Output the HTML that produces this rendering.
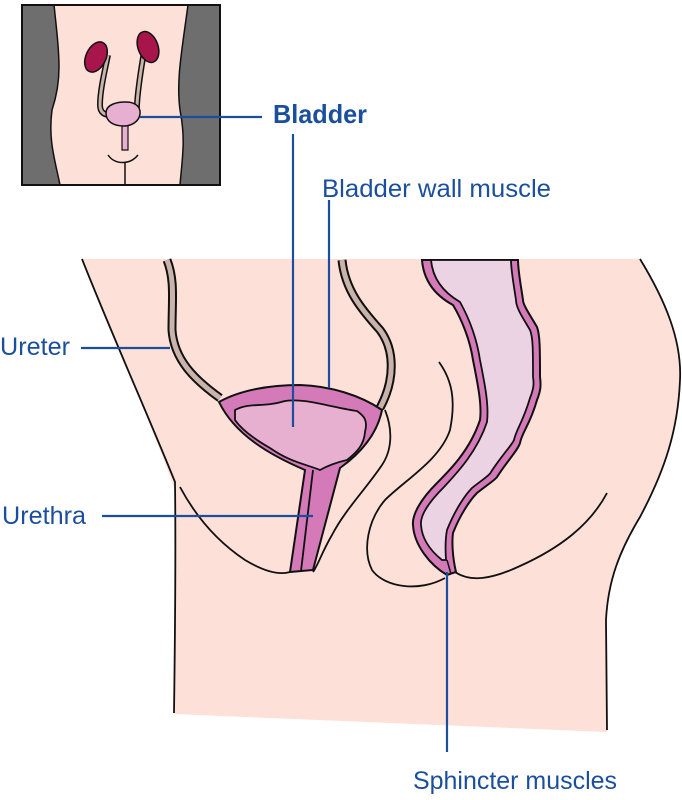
<!DOCTYPE html>
<html><head><meta charset="utf-8"><style>
html,body{margin:0;padding:0;background:#fff;}
svg{display:block;}
text{font-family:"Liberation Sans Narrow","Liberation Sans",sans-serif;fill:#1b4f9e;}
</style></head><body>
<svg width="682" height="800" viewBox="0 0 682 800" xmlns="http://www.w3.org/2000/svg">
<!-- inset -->
<rect x="22" y="5" width="198" height="180" fill="#fde0d8"/>
<path d="M22,5 L54,5 C60,60 62,80 52,110 C48,140 55,160 60,185 L22,185 Z" fill="#6e6e6e"/>
<path d="M220,5 L188,5 C182,50 176,80 180,110 C186,140 182,160 180,185 L220,185 Z" fill="#6e6e6e"/>
<path d="M54,5 C60,60 62,80 52,110 C48,140 55,160 60,185 M188,5 C182,50 176,80 180,110 C186,140 182,160 180,185" fill="none" stroke="#111" stroke-width="1.5"/>
<rect x="22" y="5" width="198" height="180" fill="none" stroke="#111" stroke-width="2"/>
<path d="M108,55 C105,70 100,90 100,105 C100,113 105,115 110,115 M145,45 C142,65 138,85 137,105 C137,112 133,115 128,115" fill="none" stroke="#111" stroke-width="6"/>
<path d="M108,55 C105,70 100,90 100,105 C100,113 105,115 110,115 M145,45 C142,65 138,85 137,105 C137,112 133,115 128,115" fill="none" stroke="#c9b3ab" stroke-width="3"/>
<ellipse cx="96" cy="57" rx="10" ry="16" transform="rotate(25 96 57)" fill="#a8154a" stroke="#111" stroke-width="1.5"/>
<ellipse cx="148" cy="47" rx="10" ry="16" transform="rotate(-20 148 47)" fill="#a8154a" stroke="#111" stroke-width="1.5"/>
<path d="M122,122 L122,150 L128,150 L128,122 Z" fill="#e8b0d0" stroke="#111" stroke-width="1.2"/>
<path d="M106,113 C106,104 118,102 125,102 C133,102 141,105 140,114 C139,122 131,126 124,126 C114,126 106,122 106,113 Z" fill="#e8b0d0" stroke="#111" stroke-width="1.5"/>
<path d="M108,155 C115,165 130,165 138,155 M125,162 L125,185" fill="none" stroke="#111" stroke-width="1.5"/>
<line x1="140" y1="117" x2="262" y2="117" stroke="#1b4f9e" stroke-width="2.2"/>

<!-- main body -->
<path d="M82,259 L640,259 C665,300 682,340 680,380 C678,430 665,470 640,517 C620,550 608,580 606,620 L607,732 L174,714 L174,713 C176,640 175,560 175,490 C150,420 110,330 82,259 Z" fill="#fde0d8"/>
<path d="M82,259 C110,330 150,420 175,482 C176,560 175,640 174,713" fill="none" stroke="#111" stroke-width="1.8"/>
<path d="M640,259 C665,300 682,340 680,380 C678,430 665,470 640,517 C620,550 608,580 606,620 L607,730" fill="none" stroke="#111" stroke-width="1.8"/>

<!-- ureters -->
<path d="M167,260 C175,280 172,300 172,330 C174,360 195,380 220,398" fill="none" stroke="#111" stroke-width="9"/>
<path d="M167,260 C175,280 172,300 172,330 C174,360 195,380 220,398" fill="none" stroke="#c9b3ab" stroke-width="5"/>
<path d="M342,260 C345,290 362,310 380,330 C395,350 395,380 380,408" fill="none" stroke="#111" stroke-width="9"/>
<path d="M342,260 C345,290 362,310 380,330 C395,350 395,380 380,408" fill="none" stroke="#c9b3ab" stroke-width="5"/>

<!-- other outlines -->
<path d="M180,487 C195,515 215,540 245,560 C265,572 280,575 290,572" fill="none" stroke="#111" stroke-width="1.8"/>
<path d="M385,410 C393,430 392,450 382,465 C365,490 345,510 332,535 C322,552 318,565 313,572" fill="none" stroke="#111" stroke-width="1.8"/>
<path d="M439,362 C452,380 456,400 450,430 C440,460 405,480 385,500 C368,520 362,550 372,570 C385,588 420,592 445,578" fill="none" stroke="#111" stroke-width="1.8"/>
<path d="M455,572 C470,582 490,580 520,566 C560,548 590,525 607,493" fill="none" stroke="#111" stroke-width="1.8"/>

<!-- bladder -->
<path d="M219,402 C240,390 270,385 300,385 C330,386 360,395 382,410 C378,430 365,450 340,468 L313,570 L290,572 L305,470 C270,455 235,435 219,402 Z" fill="#d47ab8" stroke="#111" stroke-width="2"/>
<line x1="313" y1="470" x2="301" y2="571" stroke="#111" stroke-width="1.8"/>
<path d="M235,410 C250,402 262,408 285,401 C305,398 325,406 357,411 C364,416 368,420 365,432 C364,445 357,452 347,460 C334,463 327,466 320,470 C305,464 290,462 270,448 C256,440 242,430 235,420 Z" fill="#e8b0d0" stroke="#111" stroke-width="1.8"/>

<!-- rectum -->
<path d="M422,260 C424,285 440,298 453,305 C462,320 470,340 473,360 C478,385 482,405 480,420 C470,450 450,470 437,483 C420,500 412,515 413,525 C414,545 430,565 447,575 L456,572 C452,555 452,540 453,533 C460,515 470,500 477,493 C487,485 495,480 497,477 C508,460 518,450 520,443 C522,432 530,425 537,400 C541,390 541,385 540,377 C540,350 540,335 537,327 C530,315 523,305 523,300 C520,280 518,270 518,260 Z" fill="#d47ab8" stroke="#111" stroke-width="2"/>
<path d="M431,260 C433,283 448,295 460,302 C470,320 477,340 480,360 C485,385 489,405 487,422 C477,452 457,473 444,487 C428,503 420,516 421,525 C422,540 432,552 442,560 L446,560 C445,545 446,535 447,530 C455,510 465,495 472,488 C482,480 490,475 491,472 C502,455 512,445 514,440 C516,430 523,422 530,398 C534,388 534,383 533,377 C533,350 533,337 530,330 C523,318 516,308 516,300 C513,280 511,270 511,260 Z" fill="#ecd3e3" stroke="#111" stroke-width="1.8"/>
<line x1="447" y1="560" x2="451" y2="574" stroke="#111" stroke-width="1.5"/>

<!-- leader lines -->
<g stroke="#1b4f9e" stroke-width="2.2">
<line x1="293" y1="134" x2="293" y2="427"/>
<line x1="329" y1="200" x2="329" y2="388"/>
<line x1="81" y1="348" x2="170" y2="348"/>
<line x1="102" y1="516" x2="313" y2="516"/>
<line x1="447" y1="572" x2="447" y2="752"/>
</g>

<text x="273" y="123" font-size="26" font-weight="bold" textLength="94" lengthAdjust="spacingAndGlyphs">Bladder</text>
<text x="322" y="197" font-size="25" textLength="229" lengthAdjust="spacingAndGlyphs">Bladder wall muscle</text>
<text x="0" y="355" font-size="25" textLength="70" lengthAdjust="spacingAndGlyphs">Ureter</text>
<text x="2" y="524" font-size="25" textLength="84" lengthAdjust="spacingAndGlyphs">Urethra</text>
<text x="413" y="789" font-size="25" textLength="204" lengthAdjust="spacingAndGlyphs">Sphincter muscles</text>
</svg>
</body></html>
